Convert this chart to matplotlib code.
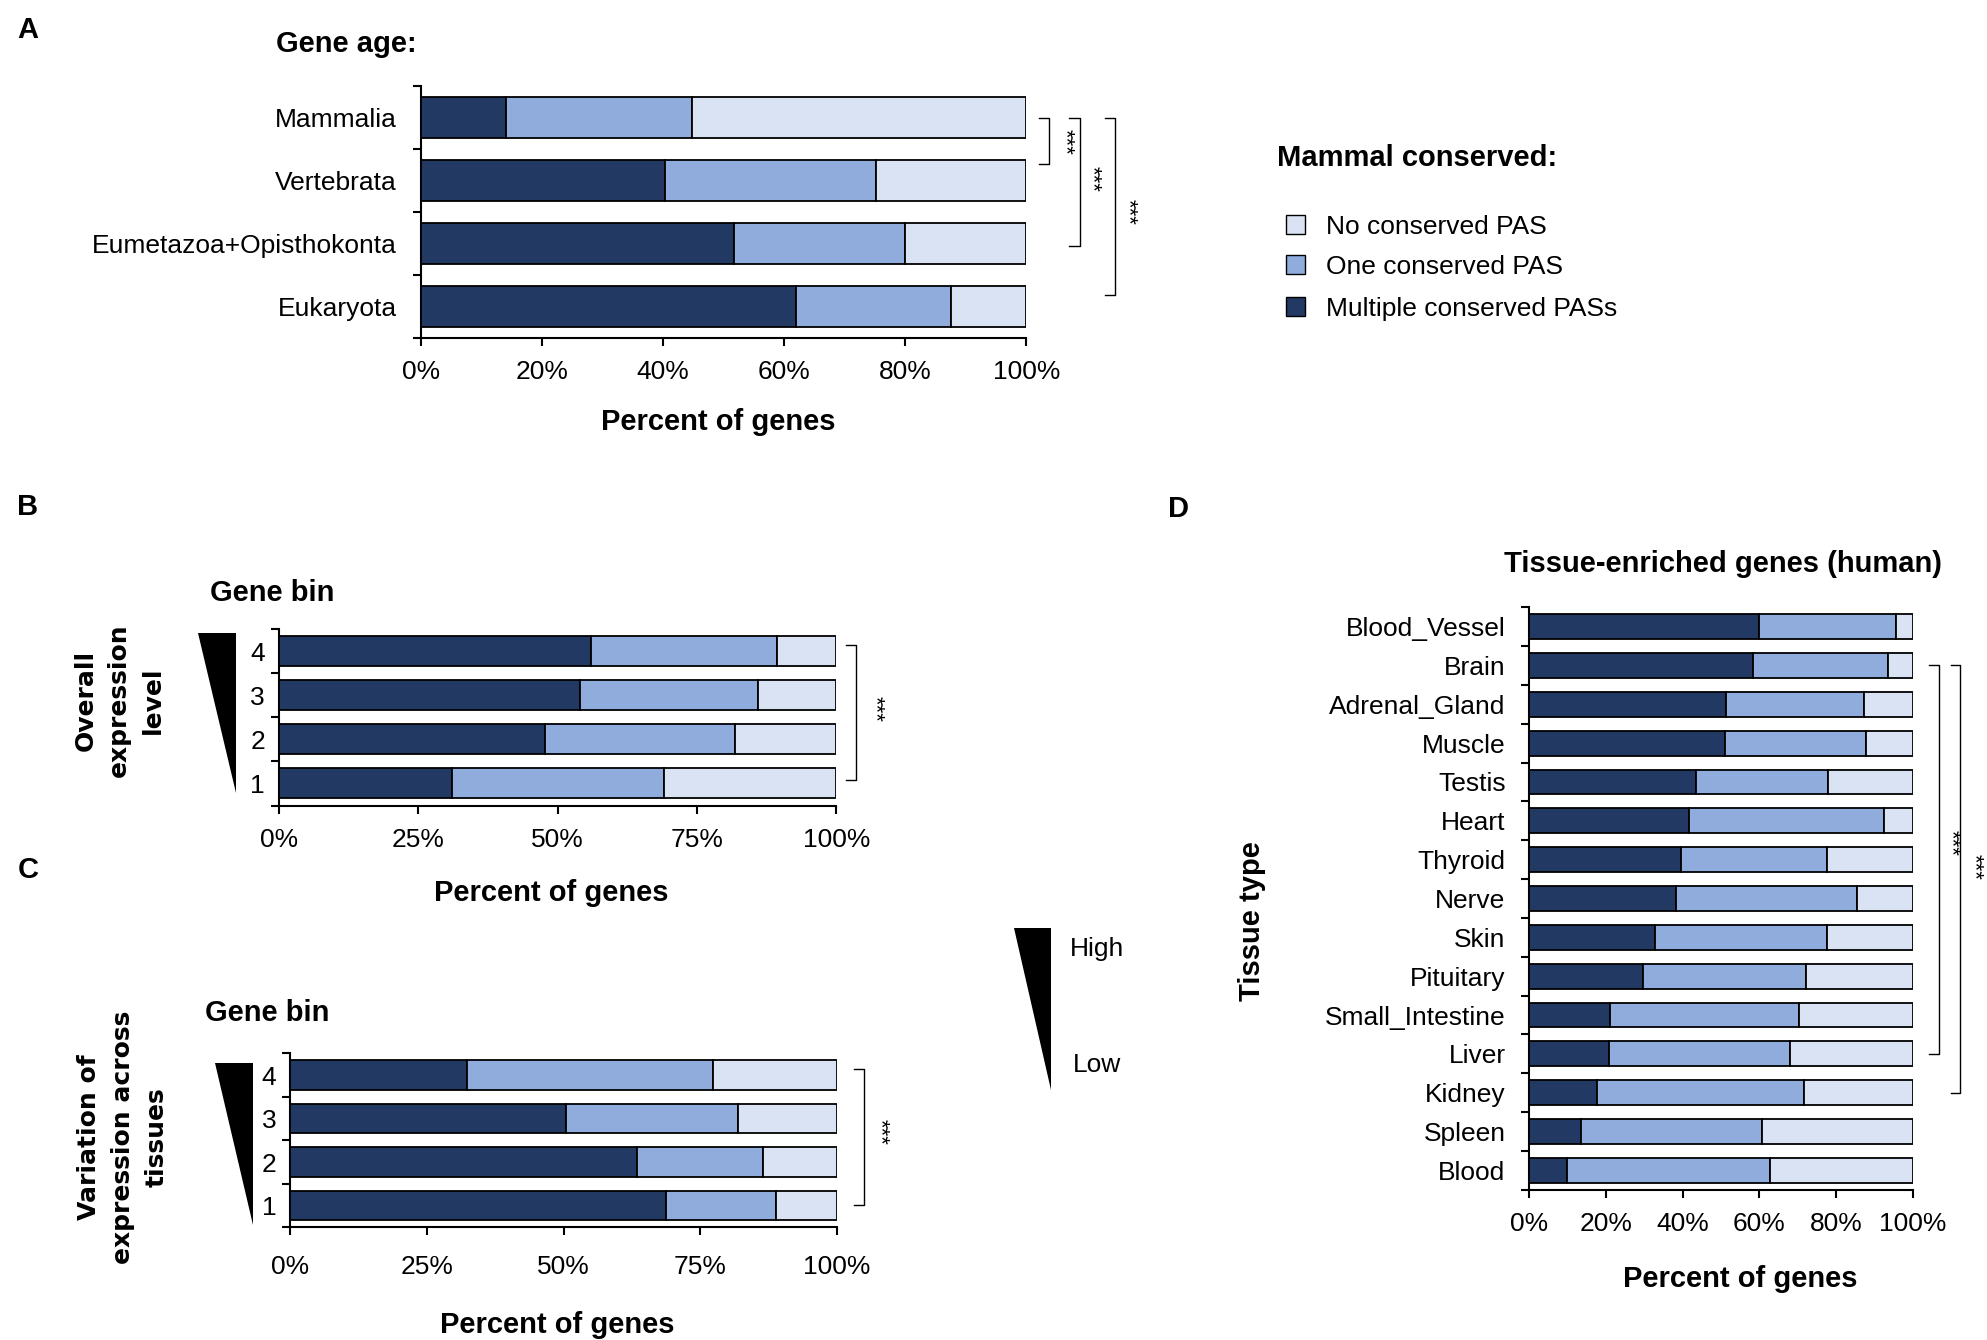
import matplotlib
matplotlib.use("Agg")
import matplotlib.pyplot as plt
from matplotlib.patches import Polygon, Rectangle
import matplotlib.transforms as mtrans

plt.rcParams['font.family'] = ['Liberation Sans', 'DejaVu Sans']

# ---------------- data ----------------
series_names = ["Multiple conserved PASs", "One conserved PAS", "No conserved PAS"]
colors = ["#223963", "#8FACDD", "#DAE3F3"]

age_labels = ["Mammalia", "Vertebrata", "Eumetazoa+Opisthokonta", "Eukaryota"]
age_multi = [14.1, 40.3, 51.8, 62.0]
age_one = [30.7, 34.8, 28.2, 25.6]

exprB_labels = ["4", "3", "2", "1"]
exprB_multi = [56.0, 54.0, 47.7, 31.1]
exprB_one = [33.3, 31.9, 34.2, 37.9]

varC_labels = ["4", "3", "2", "1"]
varC_multi = [32.3, 50.5, 63.4, 68.7]
varC_one = [45.0, 31.4, 23.0, 20.2]

tissue_labels = ["Blood_Vessel", "Brain", "Adrenal_Gland", "Muscle", "Testis", "Heart",
                 "Thyroid", "Nerve", "Skin", "Pituitary", "Small_Intestine", "Liver",
                 "Kidney", "Spleen", "Blood"]
tissue_multi = [59.9, 58.2, 51.3, 50.9, 43.5, 41.6, 39.5, 38.2, 32.7, 29.6, 21.1, 20.7,
                17.8, 13.4, 9.9]
tissue_one = [35.8, 35.4, 35.9, 36.8, 34.4, 50.9, 38.0, 47.3, 44.8, 42.5, 49.1, 47.2,
              53.9, 47.2, 52.9]

xticksA = [0, 20, 40, 60, 80, 100]
xticksBC = [0, 25, 50, 75, 100]

# ---------------- layout helpers ----------------
W, H = 1568.0, 1058.0
fig = plt.figure(figsize=(19.87, 13.40), dpi=100)
DY = 2.0  # small vertical text correction


def fx(x):
    return x / W


def fy(y):
    return 1 - y / H


def ft(y):
    return fy(y + DY)


def add_ax(x0, y0, x1, y1):
    return fig.add_axes([fx(x0), fy(y1), fx(x1) - fx(x0), (y1 - y0) / H])


TICK_FS = 19
BOLD_FS = 21


def stacked(ax, labels, multi, one, height, ypad, xticks, xpad=10):
    n = len(labels)
    pos = list(range(n))
    rest = [100 - m - o for m, o in zip(multi, one)]
    left = [0] * n
    for vals, c in zip([multi, one, rest], colors):
        ax.barh(pos, vals, left=left, height=height, color=c, edgecolor="black",
                linewidth=1.3, zorder=3)
        left = [l + v for l, v in zip(left, vals)]
    ax.set_xlim(0, 100)
    ax.set_ylim(n - 0.5, -0.5)
    ax.set_yticks(pos)
    ax.set_yticklabels(labels, fontsize=TICK_FS)
    ax.set_yticks([p - 0.5 for p in pos] + [n - 0.5], minor=True)
    ax.tick_params(axis="y", which="major", length=0, pad=ypad)
    ax.tick_params(axis="y", which="minor", length=6, width=1.5, direction="out")
    ax.set_xticks(xticks)
    ax.set_xticklabels([f"{t}%" for t in xticks], fontsize=TICK_FS)
    ax.tick_params(axis="x", length=6, width=1.5, direction="out", pad=xpad)
    for s in ["top", "right"]:
        ax.spines[s].set_visible(False)
    for s in ["left", "bottom"]:
        ax.spines[s].set_linewidth(1.5)


def bracket(ax, x, y0, y1, tick=0.017):
    tr = mtrans.blended_transform_factory(ax.transAxes, ax.transData)
    ax.plot([x - tick, x, x, x - tick], [y0, y0, y1, y1], color="black", lw=1.0,
            transform=tr, clip_on=False)


def stars(ax, x, y):
    tr = mtrans.blended_transform_factory(ax.transAxes, ax.transData)
    ax.text(x, y, "***", rotation=-90, fontsize=16, ha="center", va="center",
            transform=tr, clip_on=False)


# ---------------- Panel A ----------------
axA = add_ax(332, 68, 810, 267)
stacked(axA, age_labels, age_multi, age_one, 0.64, 17, xticksA)
bracket(axA, 1.038, 0.0, 0.74)
stars(axA, 1.063, 0.38)
bracket(axA, 1.088, 0.0, 2.04)
stars(axA, 1.109, 0.98)
bracket(axA, 1.146, 0.0, 2.82)
stars(axA, 1.167, 1.5)
fig.text(fx(218), ft(33), "Gene age:", fontsize=BOLD_FS, fontweight="bold",
         ha="left", va="center")
fig.text(fx(567), ft(331), "Percent of genes", fontsize=BOLD_FS, fontweight="bold",
         ha="center", va="center")

# legend
fig.text(fx(1008), ft(123), "Mammal conserved:", fontsize=BOLD_FS, fontweight="bold",
         ha="left", va="center")
leg_rows = [(177, 2), (209, 1), (242, 0)]
for yc, idx in leg_rows:
    fig.patches.append(Rectangle((fx(1015), fy(yc + 7.5)), fx(15), 15 / H,
                                 transform=fig.transFigure, facecolor=colors[idx],
                                 edgecolor="black", linewidth=1.0))
    fig.text(fx(1046), ft(yc), series_names[idx], fontsize=TICK_FS, ha="left",
             va="center")

# ---------------- Panel B ----------------
axB = add_ax(220, 496.6, 660, 636)
stacked(axB, exprB_labels, exprB_multi, exprB_one, 0.68, 10, xticksBC)
bracket(axB, 1.036, -0.13, 2.93, tick=0.018)
stars(axB, 1.07, 1.32)
fig.text(fx(166), ft(466), "Gene bin", fontsize=BOLD_FS, fontweight="bold",
         ha="left", va="center")
fig.text(fx(435), ft(703), "Percent of genes", fontsize=BOLD_FS, fontweight="bold",
         ha="center", va="center")
fig.text(fx(94), fy(553), "Overall\nexpression\nlevel", rotation=90, fontsize=18,
         fontweight="bold", family="DejaVu Sans", ha="center", va="center",
         multialignment="center", linespacing=1.5)
fig.patches.append(Polygon([(fx(156), fy(500)), (fx(186), fy(500)), (fx(186), fy(626))],
                           closed=True, transform=fig.transFigure, facecolor="black",
                           edgecolor="none"))

# ---------------- Panel C ----------------
axC = add_ax(229, 831.7, 660.5, 969)
stacked(axC, varC_labels, varC_multi, varC_one, 0.68, 10, xticksBC, xpad=14)
bracket(axC, 1.05, -0.13, 2.98, tick=0.018)
stars(axC, 1.078, 1.31)
fig.text(fx(162), ft(798), "Gene bin", fontsize=BOLD_FS, fontweight="bold",
         ha="left", va="center")
fig.text(fx(440), ft(1044), "Percent of genes", fontsize=BOLD_FS, fontweight="bold",
         ha="center", va="center")
fig.text(fx(97), fy(898), "Variation of\nexpression across\ntissues", rotation=90,
         fontsize=18, fontweight="bold", family="DejaVu Sans", ha="center",
         va="center", multialignment="center", linespacing=1.5)
fig.patches.append(Polygon([(fx(170), fy(839)), (fx(200), fy(839)), (fx(200), fy(967))],
                           closed=True, transform=fig.transFigure, facecolor="black",
                           edgecolor="none"))

# High / Low key
fig.patches.append(Polygon([(fx(800), fy(733)), (fx(829), fy(733)), (fx(829), fy(861))],
                           closed=True, transform=fig.transFigure, facecolor="black",
                           edgecolor="none"))
fig.text(fx(844), ft(747), "High", fontsize=TICK_FS, ha="left", va="center")
fig.text(fx(847), ft(839), "Low", fontsize=TICK_FS, ha="left", va="center")

# ---------------- Panel D ----------------
axD = add_ax(1206.7, 479.4, 1509.6, 939.4)
stacked(axD, tissue_labels, tissue_multi, tissue_one, 0.64, 17, xticksA)
bracket(axD, 1.067, 1, 11, tick=0.025)
stars(axD, 1.1, 5.57)
bracket(axD, 1.123, 1, 12, tick=0.025)
stars(axD, 1.16, 6.2)
fig.text(fx(1360), ft(443), "Tissue-enriched genes (human)", fontsize=BOLD_FS,
         fontweight="bold", ha="center", va="center")
fig.text(fx(1373), ft(1008), "Percent of genes", fontsize=BOLD_FS, fontweight="bold",
         ha="center", va="center")
fig.text(fx(988), fy(727), "Tissue type", rotation=90, fontsize=BOLD_FS,
         fontweight="bold", ha="center", va="center")

# ---------------- panel letters ----------------
for letter, (x, y) in {"A": (22, 22), "B": (22, 398), "C": (22, 685),
                       "D": (930, 400)}.items():
    fig.text(fx(x), ft(y), letter, fontsize=21, fontweight="bold", ha="center",
             va="center")

fig.savefig("out.png", dpi=100, facecolor="white")
